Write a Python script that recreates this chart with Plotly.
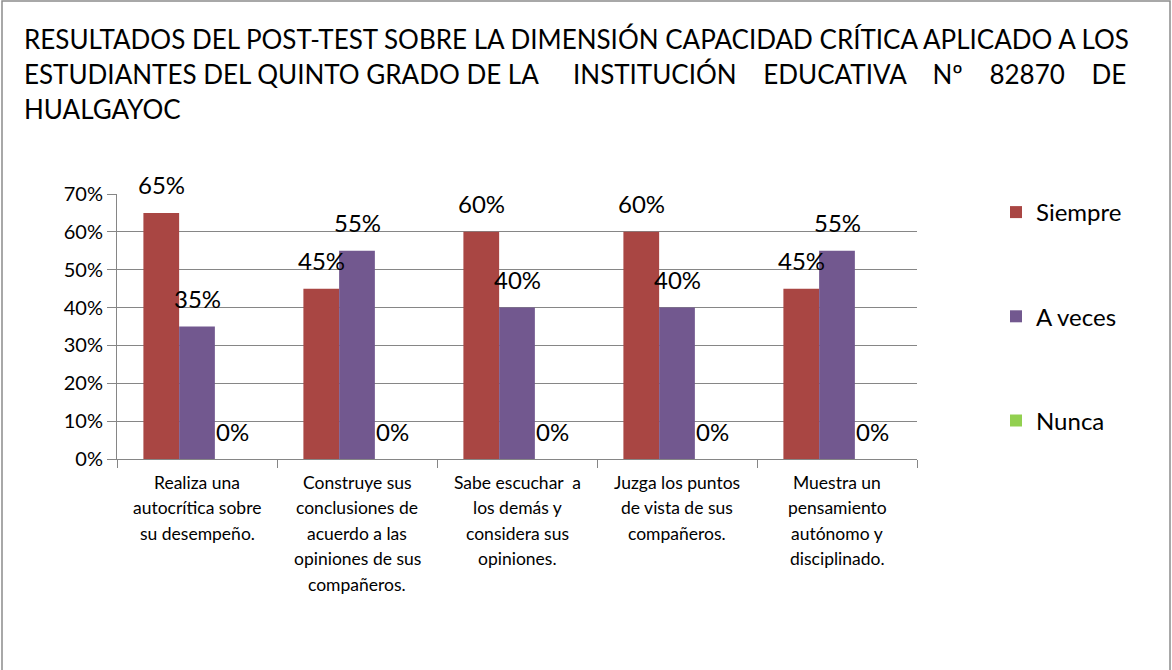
import plotly.graph_objects as go

categories = [
    "Realiza una<br>autocrítica sobre<br>su desempeño.",
    "Construye sus<br>conclusiones de<br>acuerdo a las<br>opiniones de sus<br>compañeros.",
    "Sabe escuchar  a<br>los demás y<br>considera sus<br>opiniones.",
    "Juzga los puntos<br>de vista de sus<br>compañeros.",
    "Muestra un<br>pensamiento<br>autónomo y<br>disciplinado.",
]
series_names = ["Siempre", "A veces", "Nunca"]
siempre = [0.65, 0.45, 0.60, 0.60, 0.45]
a_veces = [0.35, 0.55, 0.40, 0.40, 0.55]
nunca = [0.0, 0.0, 0.0, 0.0, 0.0]
colors = ["#A94643", "#72588F", "#92D050"]
title_line1 = "RESULTADOS DEL POST-TEST SOBRE LA DIMENSIÓN CAPACIDAD CRÍTICA APLICADO A LOS"
title_line2a = "ESTUDIANTES DEL QUINTO GRADO DE LA"
title_line2b = ("INSTITUCIÓN&nbsp;&nbsp;&nbsp; EDUCATIVA&nbsp;&nbsp;&nbsp; Nº"
                "&nbsp;&nbsp;&nbsp; 82870&nbsp;&nbsp;&nbsp; DE")
title_line3 = "HUALGAYOC"
yticks = [0, 0.1, 0.2, 0.3, 0.4, 0.5, 0.6, 0.7]

FONT = "Lato"
W, H = 1172, 670
# plot area in page pixels
L, R, T, B = 117, 917, 194, 459
BARGAP = 0.33


def px(x):
    return (x - L) / (R - L)


def py(y):
    return (B - y) / (B - T)


fig = go.Figure()
all_series = [siempre, a_veces, nunca]
for i, (name, vals, col) in enumerate(zip(series_names, all_series, colors)):
    fig.add_trace(go.Bar(
        x=categories, y=vals, name=name, marker_color=col,
        marker_line_width=0, legendgroup=name,
    ))

ann = []
nser = len(all_series)
bw = (1 - BARGAP) / nser
for s, vals in enumerate(all_series):
    off = (s - (nser - 1) / 2) * bw
    for c, v in enumerate(vals):
        ann.append(dict(
            x=c + off, y=v, xref="x", yref="y", text=f"{round(v*100)}%",
            showarrow=False, yanchor="middle", yshift=28,
            font=dict(family=FONT, size=24, color="#000000"),
        ))

for c, cat in enumerate(categories):
    for k, line in enumerate(cat.split("<br>")):
        ann.append(dict(
            x=c, y=0, xref="x", yref="paper", text=line, showarrow=False,
            yanchor="middle", yshift=-(23 + 25.5 * k),
            font=dict(family=FONT, size=17.5, color="#000000"),
        ))

tfont = dict(family=FONT, size=26, color="#000000")
ann.append(dict(x=px(22), y=py(39), xref="paper", yref="paper", text=title_line1,
                showarrow=False, xanchor="left", yanchor="middle", font=tfont))
ann.append(dict(x=px(22), y=py(74), xref="paper", yref="paper", text=title_line2a,
                showarrow=False, xanchor="left", yanchor="middle", font=tfont))
ann.append(dict(x=px(1128), y=py(74), xref="paper", yref="paper", text=title_line2b,
                showarrow=False, xanchor="right", yanchor="middle", font=tfont))
ann.append(dict(x=px(22), y=py(109), xref="paper", yref="paper", text=title_line3,
                showarrow=False, xanchor="left", yanchor="middle", font=tfont))

fig.update_layout(
    width=W, height=H,
    margin=dict(l=L, r=W - R, t=T, b=H - B, pad=0),
    paper_bgcolor="white", plot_bgcolor="white",
    barmode="group", bargap=BARGAP, bargroupgap=0,
    font=dict(family=FONT, color="#000000"),
    annotations=ann,
    showlegend=True,
    legend=dict(
        x=px(996), y=py(190), xanchor="left", yanchor="top",
        font=dict(family=FONT, size=24, color="#000000"),
        tracegroupgap=70, bgcolor="rgba(0,0,0,0)",
    ),
    shapes=[dict(type="rect", xref="paper", yref="paper",
                 x0=px(2), x1=px(1170), y0=py(700), y1=py(1),
                 line=dict(color="#8C8C8C", width=1.5), fillcolor="rgba(0,0,0,0)",
                 layer="below")],
)
fig.update_xaxes(
    showticklabels=False, ticks="outside", tickson="boundaries", ticklen=8,
    tickcolor="#868686", showline=True, linecolor="#868686", linewidth=1,
    showgrid=False, zeroline=False,
)
fig.update_yaxes(
    range=[0, 0.7], tickvals=yticks, tickformat=".0%", ticks="outside",
    ticklen=9, tickcolor="#868686", showline=True, linecolor="#868686",
    showgrid=True, gridcolor="#868686", gridwidth=1, zeroline=False,
    tickfont=dict(family=FONT, size=20, color="#000000"),
)

fig.write_html(
    "out.html",
    config={"displayModeBar": False},
    post_script="document.body.style.margin='0';document.body.style.overflow='hidden';",
)
